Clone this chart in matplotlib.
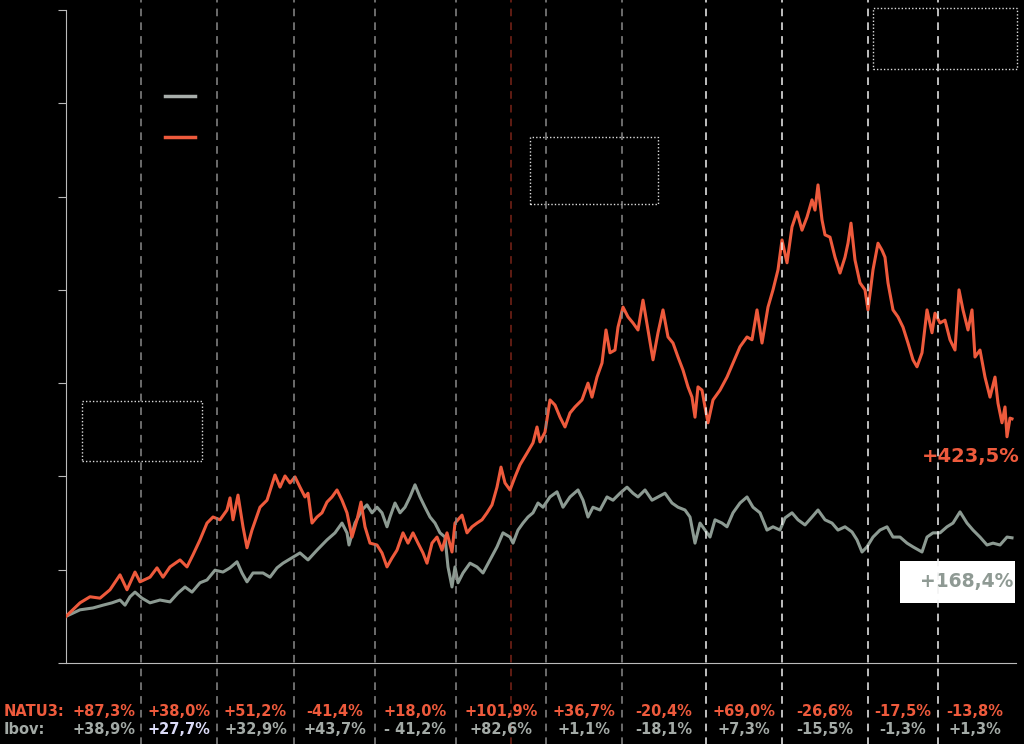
import matplotlib
matplotlib.use("Agg")
import matplotlib.pyplot as plt
from matplotlib.lines import Line2D
from matplotlib.patches import Rectangle
import matplotlib.transforms as mtransforms

# time index (trading-period units) and index level (base 100)
natu_t = [0, 14, 24, 34, 44, 54, 61, 69, 74, 84, 91, 97, 104, 114, 121, 127, 134, 141, 147, 154,
          161, 164, 167, 172, 177, 181, 186, 194, 201, 209, 214, 219, 224, 229, 234, 239, 242, 246,
          251, 256, 261, 266, 271, 276, 281, 286, 291, 295, 299, 304, 311, 316, 321, 326, 331, 337,
          342, 347, 352, 357, 361, 366, 371, 376, 381, 386, 389, 396, 401, 406, 411, 416, 421, 426,
          431, 435, 439, 444, 449, 454, 461, 467, 471, 474, 479, 484, 489, 494, 499, 504, 509, 516,
          522, 526, 531, 536, 540, 544, 549, 552, 557, 562, 567, 572, 577, 582, 587, 592, 597, 602,
          607, 612, 617, 622, 626, 629, 632, 636, 639, 642, 647, 654, 661, 667, 674, 681, 686, 691,
          696, 702, 707, 712, 716, 721, 726, 731, 736, 741, 746, 749, 752, 756, 759, 764, 769, 774,
          779, 782, 785, 789, 794, 799, 802, 807, 812, 816, 819, 822, 827, 832, 837, 842, 847, 851,
          856, 861, 866, 869, 874, 879, 884, 889, 893, 897, 902, 906, 909, 914, 919, 924, 929, 932,
          936, 939, 941, 944, 946]
natu_v = [100, 129, 142, 139, 157, 189, 157, 195, 174, 184, 204, 184, 206, 221, 206, 232, 264, 300, 313, 307,
          328, 354, 307, 360, 292, 247, 285, 334, 349, 403, 377, 401, 386, 399, 377, 356, 364, 300,
          313, 322, 345, 356, 371, 349, 322, 270, 307, 345, 292, 257, 253, 236, 206, 225, 242, 279,
          257, 279, 257, 236, 214, 257, 270, 242, 279, 238, 300, 317, 279, 292, 300, 307, 322, 339,
          377, 420, 386, 371, 399, 425, 450, 472, 506, 474, 495, 564, 553, 527, 506, 536, 549, 564,
          600, 570, 613, 643, 714, 665, 671, 720, 763, 742, 729, 714, 778, 714, 650, 708, 757, 699,
          686, 656, 628, 592, 570, 527, 592, 585, 549, 515, 564, 585, 613, 643, 678, 699, 693, 757,
          686, 763, 800, 843, 907, 858, 935, 967, 928, 956, 993, 971, 1025, 950, 918, 913, 870, 836,
          870, 900, 943, 864, 815, 800, 757, 843, 900, 885, 870, 815, 757, 742, 720, 686, 650, 635,
          665, 757, 708, 750, 729, 735, 693, 671, 800, 757, 714, 757, 656, 671, 613, 570, 613, 557,
          515, 549, 485, 525, 523.5]

ibov_t = [0, 14, 27, 37, 46, 54, 59, 64, 69, 76, 84, 94, 104, 112, 119, 126, 134, 141, 149, 157,
          164, 171, 176, 181, 187, 197, 204, 211, 217, 227, 234, 242, 251, 261, 269, 276, 281, 283,
          289, 296, 301, 306, 311, 316, 321, 324, 329, 334, 339, 344, 349, 354, 359, 364, 369, 374,
          379, 382, 386, 389, 392, 397, 404, 411, 417, 424, 431, 437, 444, 447, 452, 457, 462, 467,
          472, 477, 484, 491, 497, 504, 512, 517, 522, 527, 534, 541, 547, 554, 561, 567, 572, 579,
          586, 592, 599, 606, 612, 619, 624, 627, 629, 634, 639, 644, 649, 656, 661, 667, 674, 681,
          687, 694, 701, 707, 714, 719, 726, 732, 739, 746, 752, 759, 766, 772, 779, 786, 791, 796,
          801, 807, 814, 821, 827, 834, 841, 847, 856, 861, 867, 874, 881, 887, 894, 901, 907, 914,
          921, 927, 934, 941, 946]
ibov_v = [100, 114, 118, 124, 129, 135, 124, 142, 152, 139, 129, 135, 131, 150, 163, 152, 172, 178, 199, 195,
          204, 217, 193, 174, 193, 193, 184, 204, 214, 227, 236, 221, 242, 264, 279, 300, 279, 253,
          300, 328, 339, 322, 334, 322, 292, 313, 343, 322, 334, 356, 382, 356, 334, 313, 300, 279,
          270, 206, 163, 206, 172, 193, 214, 206, 193, 221, 249, 279, 270, 257, 285, 300, 313, 322,
          343, 334, 356, 367, 334, 356, 371, 349, 313, 334, 328, 356, 349, 364, 377, 364, 356, 371,
          349, 356, 364, 343, 334, 328, 313, 279, 257, 300, 285, 270, 307, 300, 292, 322, 343, 356,
          334, 322, 285, 292, 285, 311, 322, 307, 296, 313, 328, 307, 300, 285, 292, 281, 264, 238,
          249, 270, 285, 292, 270, 270, 257, 249, 238, 270, 279, 279, 292, 300, 324, 300, 285, 270,
          253, 257, 253, 270, 268.4]

# period boundaries and yearly returns
bounds = [0, 75, 151, 228, 309, 390, 480, 556, 640, 716, 802, 872, 946]
event_line = 445
natu_ret = ["+87,3%", "+38,0%", "+51,2%", "-41,4%", "+18,0%", "+101,9%",
            "+36,7%", "-20,4%", "+69,0%", "-26,6%", "-17,5%", "-13,8%"]
ibov_ret = ["+38,9%", "+27,7%", "+32,9%", "+43,7%", "- 41,2%", "+82,6%",
            "+1,1%", "-18,1%", "+7,3%", "-15,5%", "-1,3%", "+1,3%"]

ORANGE = "#ee5a3c"
GRAY = "#8c9a92"
LBL_GRAY = "#a3aaa6"

fig = plt.figure(figsize=(10.24, 7.44), dpi=100, facecolor="black")
ax = fig.add_axes((66 / 1024, 81 / 744, 950 / 1024, 653 / 744))
ax.set_facecolor("black")

ax.plot(ibov_t, ibov_v, color=GRAY, lw=2.2, zorder=3)
ax.plot(natu_t, natu_v, color=ORANGE, lw=2.2, zorder=4)

ax.set_xlim(0, 950)
ax.set_ylim(0, 1400)
ax.set_yticks(range(0, 1401, 200))
ax.set_yticklabels([])
ax.set_xticks([])
for s in ["top", "right"]:
    ax.spines[s].set_visible(False)
for s in ["left", "bottom"]:
    ax.spines[s].set_color("#bbbbbb")
ax.tick_params(axis="y", colors="#bbbbbb", length=6, direction="out")

# period dividers, running through the whole figure height
for b in bounds[1:-1]:
    col = "#f2f2f2" if b >= 640 else "#8a8a8a"
    ax.axvline(b, ymin=-0.13, ymax=1.02, color=col, lw=1.1, ls=(0, (5, 4)),
               clip_on=False, zorder=6)
ax.axvline(event_line, ymin=-0.13, ymax=1.02, color="#7a2418", lw=1.1,
           ls=(0, (5, 4)), clip_on=False, zorder=2)

# empty dotted annotation boxes
for (x0, y0, w, h) in [(16, 433, 120, 129), (464, 984, 128, 144), (807, 1274, 144, 130)]:
    ax.add_patch(Rectangle((x0, y0), w, h, fill=False, ec="#dddddd", lw=1.0,
                           ls=(0, (1, 1.5)), clip_on=False, zorder=5))

# legend swatches (labels drawn black, as in the original)
leg = ax.legend(handles=[Line2D([], [], color="#a8aeab", lw=2.5),
                         Line2D([], [], color=ORANGE, lw=2.5)],
                labels=["Ibov", "NATU3"], labelcolor="black", frameon=False,
                loc="upper left", bbox_to_anchor=(0.084, 0.91), fontsize=15,
                handlelength=1.45, labelspacing=1.0)

# end labels
ax.text(1020 - 66, 442, "+423,5%", color=ORANGE, fontsize=14, fontweight="bold",
        ha="right", va="center", clip_on=False)
ax.add_patch(Rectangle((834, 129), 115, 90, fc="white", ec="none", zorder=5, clip_on=False))
ax.text(947, 174, "+168,4%", color="#8f9a94", fontsize=13.5, fontweight="bold",
        ha="right", va="center", zorder=5.5)

# yearly return rows
trans = mtransforms.blended_transform_factory(ax.transData, fig.transFigure)
fig.text(4 / 1024, 1 - 712 / 744, "NATU3:", color=ORANGE, fontsize=10.5,
         fontweight="bold", va="center")
fig.text(4 / 1024, 1 - 729 / 744, "Ibov:", color=LBL_GRAY, fontsize=10.5,
         fontweight="bold", va="center")
for i in range(len(natu_ret)):
    xc = (bounds[i] + bounds[i + 1]) / 2
    ax.text(xc, 1 - 712 / 744, natu_ret[i], transform=trans, color=ORANGE,
            fontsize=10.5, fontweight="bold", ha="center", va="center")
    c = "#dcdcf8" if i == 1 else LBL_GRAY
    ax.text(xc, 1 - 729 / 744, ibov_ret[i], transform=trans, color=c,
            fontsize=10.5, fontweight="bold", ha="center", va="center")

fig.savefig("out.png", dpi=100, facecolor="black")
